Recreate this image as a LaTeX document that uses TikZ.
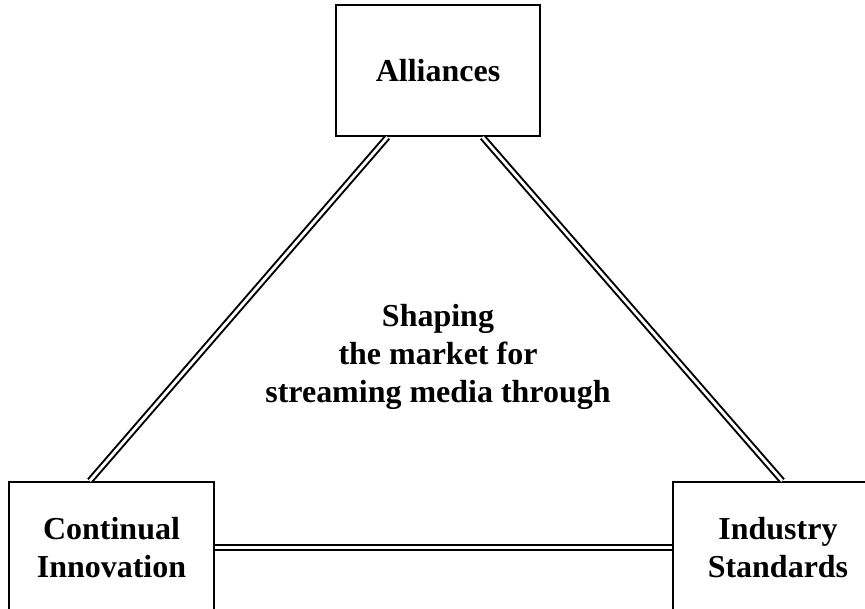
\documentclass[tikz,border=0pt]{standalone}
\usepackage{fontspec}
\setmainfont{Liberation Serif}
\usetikzlibrary{calc}

\begin{document}
\begin{tikzpicture}[
    box/.style={draw=black, line width=0.22mm, minimum width=2.05cm,
      minimum height=1.31cm, align=center, inner sep=0pt,
      font=\fontsize{9.1}{10.9}\selectfont\bfseries},
    link/.style={draw=black, line width=0.2mm, double=white,
      double distance=0.28mm}
  ]
  \useasboundingbox (0,0) rectangle (8.65,6.08);
  \clip (0,0) rectangle (8.65,6.08);

  % the three boxes
  \node[box, minimum width=2.04cm] (alliances) at (4.38,5.375) {Alliances};
  \node[box] (innovation) at (1.115,0.605) {Continual\\Innovation};
  \node[box, minimum width=2.1cm] (standards) at (7.78,0.605) {Industry\\Standards};

  % text in the middle of the triangle
  \node[align=center, inner sep=0pt,
    font=\fontsize{9.1}{10.9}\selectfont\bfseries] (shaping) at (4.38,2.51)
    {Shaping\\the market for\\streaming media through};

  % double lines between the boxes
  \draw[link] ($(alliances.south west)!0.255!(alliances.south east)$)
    -- ($(innovation.north west)!0.395!(innovation.north east)$);
  \draw[link] ($(alliances.south west)!0.716!(alliances.south east)$)
    -- ($(standards.north west)!0.52!(standards.north east)$);
  \draw[link] (innovation.east) -- (standards.west);

\end{tikzpicture}
\end{document}
